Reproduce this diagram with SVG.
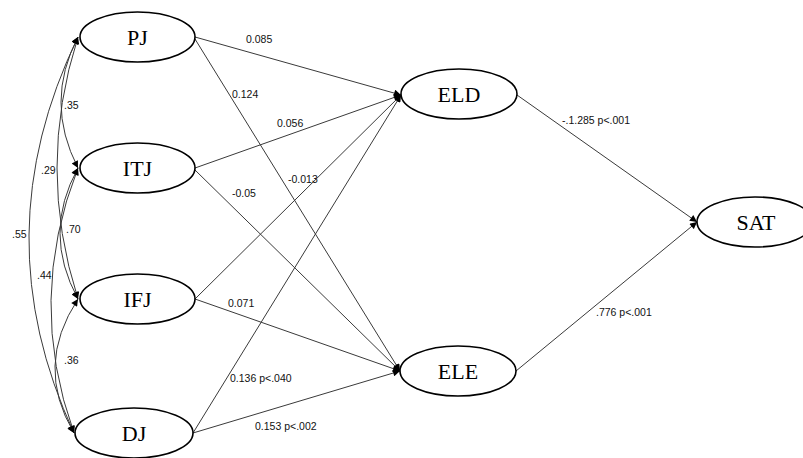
<svg xmlns="http://www.w3.org/2000/svg" width="803" height="458" viewBox="0 0 803 458">
<defs>
<marker id="ah" viewBox="0 0 10 10" refX="10" refY="5" markerWidth="9" markerHeight="7" markerUnits="userSpaceOnUse" orient="auto-start-reverse">
<path d="M0,0 L10,5 L0,10 z" fill="#000"/>
</marker>
<style>
.n ellipse{fill:#fff;stroke:#000;stroke-width:1.6}
.n text{font-family:"Liberation Serif","Times New Roman",serif;font-size:22px;text-anchor:middle;fill:#000}
.c path,.c line{fill:none;stroke:#3a3a3a;stroke-width:1}
.c line{marker-end:url(#ah)}
.c path{marker-start:url(#ah);marker-end:url(#ah)}
.l{font-family:"Liberation Sans",Arial,sans-serif;font-size:10.5px;fill:#111}
</style>
</defs>
<rect width="803" height="458" fill="#fff"/>
<g class="c" id="connectors">
<path d="M78,37 Q44,102 78,168"/>
<path d="M78,37 Q36,168 78,299"/>
<path d="M78,37 Q-18,235 74,433"/>
<path d="M78,168 Q42,233 78,299"/>
<path d="M78,168 Q26,300 74,433"/>
<path d="M78,299 Q34,366 74,433"/>
<line x1="195" y1="37" x2="401" y2="95"/>
<line x1="195" y1="39" x2="400" y2="371"/>
<line x1="195" y1="168" x2="401" y2="95"/>
<line x1="195" y1="170" x2="400" y2="371"/>
<line x1="195" y1="299" x2="401" y2="95"/>
<line x1="195" y1="299" x2="400" y2="371"/>
<line x1="193" y1="433" x2="401" y2="95"/>
<line x1="193" y1="433" x2="400" y2="371"/>
<line x1="517" y1="95" x2="697" y2="222"/>
<line x1="516" y1="371" x2="697" y2="222"/>
</g>
<g id="labels">
<text class="l" x="64" y="109">.35</text>
<text class="l" x="41" y="174">.29</text>
<text class="l" x="66" y="233">.70</text>
<text class="l" x="12" y="238">.55</text>
<text class="l" x="37" y="279">.44</text>
<text class="l" x="64" y="364">.36</text>
<text class="l" x="246" y="43">0.085</text>
<text class="l" x="232" y="98">0.124</text>
<text class="l" x="277" y="127">0.056</text>
<text class="l" x="288" y="183">-0.013</text>
<text class="l" x="232" y="197">-0.05</text>
<text class="l" x="228" y="307">0.071</text>
<text class="l" x="230" y="382">0.136 p&lt;.040</text>
<text class="l" x="255" y="430">0.153 p&lt;.002</text>
<text class="l" x="562" y="124">-.1.285 p&lt;.001</text>
<text class="l" x="596" y="316">.776 p&lt;.001</text>
</g>
<g class="n" id="PJ"><ellipse cx="137.5" cy="37" rx="57.5" ry="25"/><text x="137.5" y="45">PJ</text></g>
<g class="n" id="ITJ"><ellipse cx="137.5" cy="168" rx="57.5" ry="25"/><text x="137.5" y="176">ITJ</text></g>
<g class="n" id="IFJ"><ellipse cx="137.5" cy="299" rx="57.5" ry="25"/><text x="137.5" y="307">IFJ</text></g>
<g class="n" id="DJ"><ellipse cx="134" cy="433" rx="59" ry="25"/><text x="134" y="441">DJ</text></g>
<g class="n" id="ELD"><ellipse cx="459" cy="94" rx="58" ry="25"/><text x="459" y="102">ELD</text></g>
<g class="n" id="ELE"><ellipse cx="458" cy="371" rx="58" ry="25"/><text x="458" y="379">ELE</text></g>
<g class="n" id="SAT"><ellipse cx="755" cy="222" rx="58" ry="25"/><text x="756" y="230">SAT</text></g>
</svg>
